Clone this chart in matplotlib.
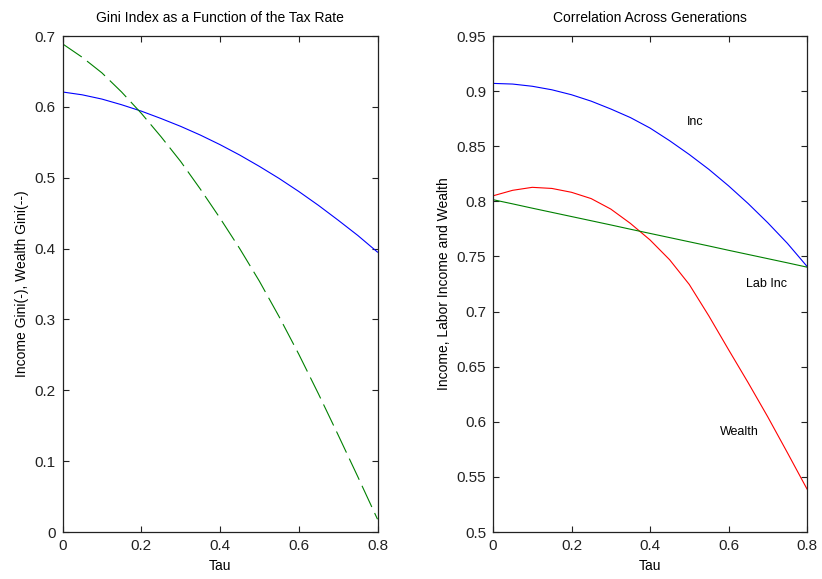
import matplotlib
matplotlib.use("Agg")
import matplotlib.pyplot as plt

tau = [0.0, 0.05, 0.1, 0.15, 0.2, 0.25, 0.3, 0.35, 0.4, 0.45, 0.5, 0.55, 0.6, 0.65, 0.7, 0.75, 0.8]

gini_income = [0.621, 0.617, 0.611, 0.603, 0.594, 0.5836, 0.5725, 0.5602, 0.5467, 0.5320,
               0.5160, 0.4990, 0.4806, 0.4610, 0.4401, 0.4185, 0.3950]
gini_wealth = [0.689, 0.670, 0.648, 0.621, 0.591, 0.558, 0.523, 0.484, 0.443, 0.400,
               0.354, 0.304, 0.251, 0.195, 0.137, 0.078, 0.018]

corr_inc = [0.907, 0.9064, 0.9044, 0.9012, 0.8967, 0.8909, 0.8838, 0.8760, 0.8665, 0.8550,
            0.8425, 0.8290, 0.8141, 0.7980, 0.7806, 0.7619, 0.7410]
corr_lab = [0.8015, 0.7977, 0.7938, 0.7900, 0.7862, 0.7824, 0.7786, 0.7747, 0.7709, 0.7671,
            0.7633, 0.7595, 0.7556, 0.7518, 0.7480, 0.7442, 0.7403]
corr_wealth = [0.805, 0.810, 0.8127, 0.8117, 0.8082, 0.8025, 0.793, 0.780, 0.765, 0.747,
               0.7246, 0.696, 0.6655, 0.6355, 0.6045, 0.572, 0.539]

left_yticks = [0, 0.1, 0.2, 0.3, 0.4, 0.5, 0.6, 0.7]
left_yticklabels = ["0", "0.1", "0.2", "0.3", "0.4", "0.5", "0.6", "0.7"]
right_yticks = [0.5, 0.55, 0.6, 0.65, 0.7, 0.75, 0.8, 0.85, 0.9, 0.95]
right_yticklabels = ["0.5", "0.55", "0.6", "0.65", "0.7", "0.75", "0.8", "0.85", "0.9", "0.95"]
xticks = [0, 0.2, 0.4, 0.6, 0.8]
xticklabels = ["0", "0.2", "0.4", "0.6", "0.8"]

labels_text = ["Inc", "Lab Inc", "Wealth"]
labels_x = [0.494, 0.645, 0.579]
labels_y = [0.872, 0.725, 0.5906]

plt.rcParams['font.family'] = ['Liberation Sans', 'DejaVu Sans']

fig = plt.figure(figsize=(8.22, 5.79), dpi=100)
fig.patch.set_facecolor('white')

W, H = 822, 579
def pos(x0, x1, y0, y1):
    return [x0 / W, (H - y1) / H, (x1 - x0) / W, (y1 - y0) / H]

ax1 = fig.add_axes(pos(62.5, 377.5, 36, 532))
ax2 = fig.add_axes(pos(493, 807, 36, 532))

def style(ax):
    ax.tick_params(direction='in', top=True, right=True, length=4.5, width=0.8,
                   labelsize=11, pad=5, colors='#222222')
    for s in ax.spines.values():
        s.set_linewidth(0.9)
        s.set_color('#222222')
    ax.set_xlim(0, 0.8)
    ax.set_xticks(xticks)
    ax.set_xticklabels(xticklabels)

ax1.plot(tau, gini_income, color=(0, 0, 1), lw=0.8)
ax1.plot(tau, gini_wealth, color=(0, 0.5, 0), lw=0.8, dashes=(21, 6))
ax1.set_ylim(0, 0.7)
ax1.set_yticks(left_yticks)
ax1.set_yticklabels(left_yticklabels)
style(ax1)
ax1.set_title("Gini Index as a Function of the Tax Rate", fontsize=10, pad=10)
ax1.set_xlabel("Tau", fontsize=10, labelpad=4)
ax1.set_ylabel("Income Gini(-), Wealth Gini(--)", fontsize=10, labelpad=4)

ax2.plot(tau, corr_inc, color=(0, 0, 1), lw=0.8)
ax2.plot(tau, corr_wealth, color=(1, 0, 0), lw=0.8)
ax2.plot(tau, corr_lab, color=(0, 0.5, 0), lw=0.8)
ax2.set_ylim(0.5, 0.95)
ax2.set_yticks(right_yticks)
ax2.set_yticklabels(right_yticklabels)
style(ax2)
ax2.set_title("Correlation Across Generations", fontsize=10, pad=10)
ax2.set_xlabel("Tau", fontsize=10, labelpad=4)
ax2.set_ylabel("Income, Labor Income and Wealth", fontsize=10, labelpad=4)

for t, x, y in zip(labels_text, labels_x, labels_y):
    ax2.text(x, y, t, fontsize=9, va='center', ha='left')

fig.savefig("out.png", dpi=100, facecolor='white')
